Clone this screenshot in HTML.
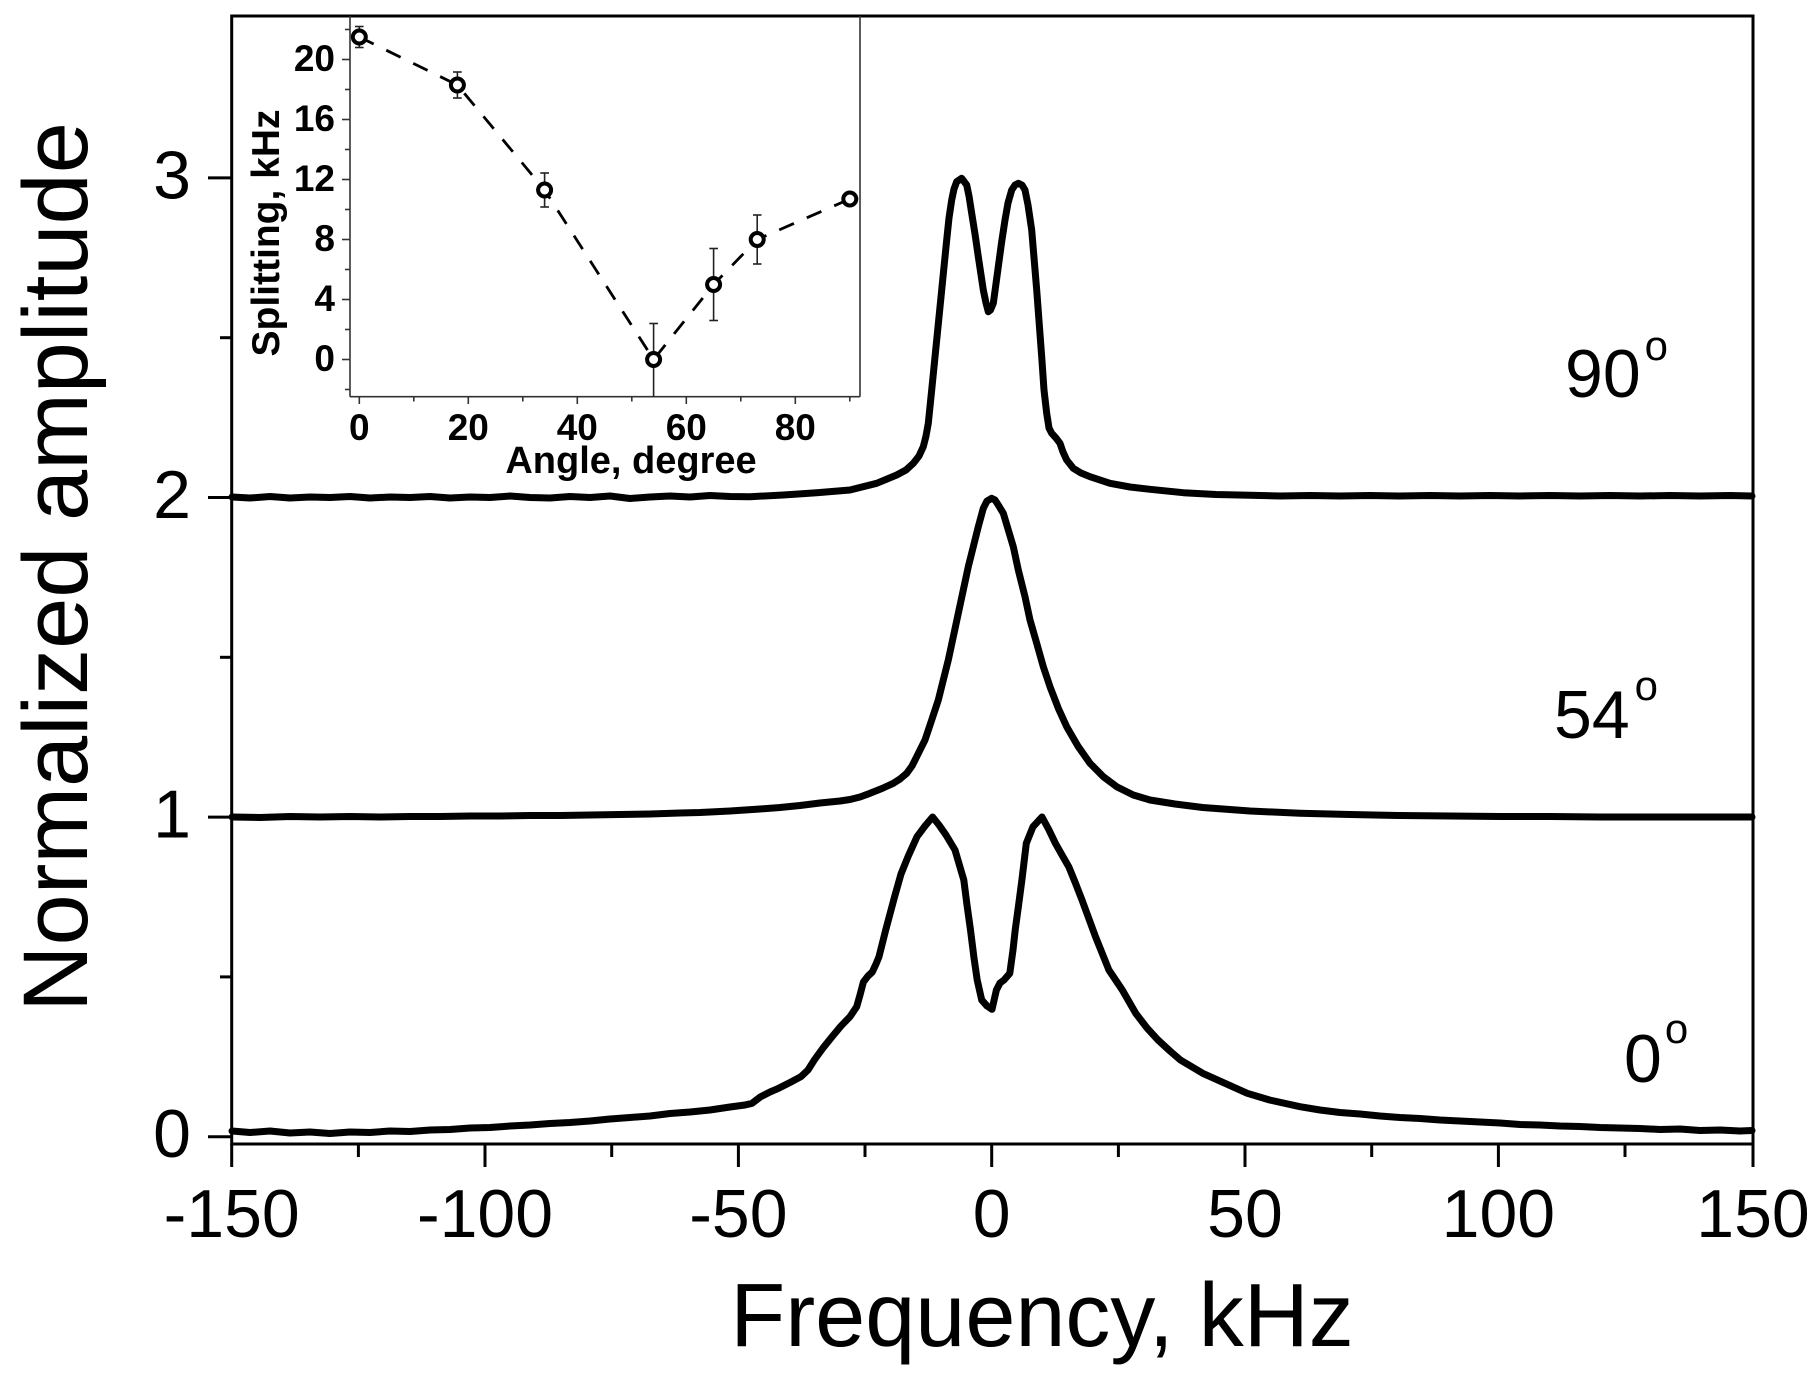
<!DOCTYPE html>
<html>
<head>
<meta charset="utf-8">
<style>
html,body{margin:0;padding:0;background:#fff;}
svg{display:block;}
text{font-family:"Liberation Sans",Arial,sans-serif;fill:#000;}
</style>
</head>
<body>
<svg width="1815" height="1382" viewBox="0 0 1815 1382" xmlns="http://www.w3.org/2000/svg">
<rect x="0" y="0" width="1815" height="1382" fill="#fff"/>

<!-- main frame -->
<rect x="231.7" y="16" width="1521.3" height="1128" fill="none" stroke="#000" stroke-width="3"/>

<!-- x ticks major -->
<g stroke="#000" stroke-width="3">
<line x1="231.7" y1="1144" x2="231.7" y2="1167"/>
<line x1="485" y1="1144" x2="485" y2="1167"/>
<line x1="738.4" y1="1144" x2="738.4" y2="1167"/>
<line x1="991.7" y1="1144" x2="991.7" y2="1167"/>
<line x1="1245" y1="1144" x2="1245" y2="1167"/>
<line x1="1498.4" y1="1144" x2="1498.4" y2="1167"/>
<line x1="1753" y1="1144" x2="1753" y2="1167"/>
<!-- minor -->
<line x1="358.4" y1="1144" x2="358.4" y2="1157"/>
<line x1="611.7" y1="1144" x2="611.7" y2="1157"/>
<line x1="865" y1="1144" x2="865" y2="1157"/>
<line x1="1118.4" y1="1144" x2="1118.4" y2="1157"/>
<line x1="1371.7" y1="1144" x2="1371.7" y2="1157"/>
<line x1="1625" y1="1144" x2="1625" y2="1157"/>
<!-- y ticks major -->
<line x1="208" y1="1136.7" x2="231.7" y2="1136.7"/>
<line x1="208" y1="817.1" x2="231.7" y2="817.1"/>
<line x1="208" y1="497.5" x2="231.7" y2="497.5"/>
<line x1="208" y1="177.9" x2="231.7" y2="177.9"/>
<!-- y minor -->
<line x1="220" y1="976.9" x2="231.7" y2="976.9"/>
<line x1="220" y1="657.3" x2="231.7" y2="657.3"/>
<line x1="220" y1="337.7" x2="231.7" y2="337.7"/>
</g>

<!-- y tick labels -->
<g font-size="68" text-anchor="end">
<text x="191" y="1157">0</text>
<text x="191" y="837.5">1</text>
<text x="191" y="518">2</text>
<text x="191" y="198.5">3</text>
</g>
<!-- x tick labels -->
<g font-size="68" text-anchor="middle">
<text x="231.7" y="1237">-150</text>
<text x="485" y="1237">-100</text>
<text x="738.4" y="1237">-50</text>
<text x="991.7" y="1237">0</text>
<text x="1245" y="1237">50</text>
<text x="1498.4" y="1237">100</text>
<text x="1753" y="1237">150</text>
</g>

<text x="1042" y="1346" font-size="90" text-anchor="middle">Frequency, kHz</text>
<text transform="translate(87,567) rotate(-90)" font-size="92" text-anchor="middle">Normalized amplitude</text>

<!-- curve labels -->
<text x="1565" y="397" font-size="68">90<tspan font-size="42" dx="4" dy="-37">o</tspan></text>
<text x="1554" y="738" font-size="68">54<tspan font-size="42" dx="5" dy="-38">o</tspan></text>
<text x="1624" y="1082" font-size="68">0<tspan font-size="42" dx="3" dy="-39">o</tspan></text>

<!-- curves -->
<g fill="none" stroke="#000" stroke-width="7" stroke-linejoin="round" stroke-linecap="round">
<!-- 0 degree -->
<polyline points="232,1131 250,1132.5 270,1131 290,1133 310,1132 330,1133.5 350,1132 370,1132.5 390,1131 410,1131.5 430,1130 450,1129.5 470,1128 490,1127.5 510,1126 530,1125 550,1123.5 570,1122.5 590,1121 610,1119 630,1117.5 650,1116 670,1113.5 690,1112 710,1110 730,1107 745,1105 752,1103.3 760.7,1096.7 770,1092 778.6,1088.3 790,1082.5 800.9,1076.7 808,1070 814.3,1060 823,1048 832.1,1036.7 841,1026 850,1016.7 856.7,1006.7 860,995 863.4,982 868,976 872.3,972 876,964 879,956.7 885.7,930 894.6,896.7 901,874 908,856.7 917,836.7 925,826 932.6,817 939,825 946,835 955,850 963.8,880 967,905 970.5,930 974,958 977.2,980 981.7,1000 987,1006 992,1009.3 996.4,990 1000,983 1004,980 1009.8,973.3 1013,950 1015.2,930 1018.6,905 1021.9,880 1026.3,843.3 1033,826.7 1042,817 1049,830 1055.4,843.3 1062,855 1068.75,866.7 1075,882 1082,900 1095.5,936.7 1108.9,970 1122.3,990 1135.7,1013.3 1147,1028 1158,1040 1170,1051 1180.4,1060 1202.7,1073.3 1225,1083.3 1247.3,1093.3 1269.6,1100 1300,1106.7 1320,1110 1340,1112.5 1360,1114 1380,1116 1400,1117.5 1420,1118.5 1440,1120 1460,1121 1480,1122 1500,1123 1520,1124.5 1540,1125 1560,1126 1580,1126.5 1600,1127.5 1620,1128 1640,1128.5 1660,1129.5 1680,1129 1700,1130.5 1720,1130 1740,1131 1752,1130.5"/>
<!-- 54 degree -->
<polyline points="232,817 260,817.5 290,816.5 320,817 350,816.5 380,817 410,816.5 440,816.5 470,816 500,816 530,815.5 560,815.5 590,815 620,814.5 650,814 680,813 700,812.5 730,811 760,809 780,807.5 800,805.5 820,803 840,801 850,799.5 860,797 870,793.3 882,788.5 893.3,783.3 900,779 906.7,773.3 912,766 916.7,756.7 921,748 925,740 931.7,720 938.3,700 943.3,680 948.3,660 953.3,636.7 958.3,613.3 963.3,590 968.3,566.7 973.3,546.7 978.3,526.7 983.3,508.3 987,501 991.7,498.3 995,500 998.3,505 1003.3,513.3 1008.3,530 1013.3,546.7 1018.3,570 1025,596.7 1030,620 1036.7,643.3 1043.3,666.7 1050,686.7 1058.3,708.3 1066.7,726.7 1078.3,746.7 1090,763.3 1103.3,776.7 1116.7,786.7 1133.3,795 1150,800 1175,804 1202.7,807.5 1250,811 1300,813.3 1350,814.5 1400,815.5 1450,816 1500,816.5 1550,816.5 1600,817 1650,817 1700,817 1752,817"/>
<!-- 90 degree -->
<polyline points="232,497 250,498 270,496.5 290,498 310,497 330,497.5 350,496.5 370,498 390,497 410,497.5 430,496.5 450,498 470,497 490,497.5 510,496 530,497.5 550,498 570,496.5 590,497.5 610,496 630,498.5 650,497 670,496 690,497 710,495.5 730,496.5 750,496.7 783.3,495 816.7,492.7 850,490 876.7,483.3 896.7,475 906,470 913.3,463.3 919,456 923.3,446.7 926,436 928.3,423.3 931.7,390 936.7,340 941.7,290 946.7,240 949,218 951.7,200 954,189 956.7,181.7 961.7,178.3 966.7,185 969,196 971.7,213.3 975,234 978.3,256.7 983.3,290 986,303 988.3,311.7 990.5,310 993.3,303.3 998.3,266.7 1001.5,243 1005,220 1008,203 1011.7,190 1015,185 1018.3,183.3 1022,185 1025,190 1028,205 1031.7,230 1036.7,290 1041.7,356.7 1044,390 1046.7,413.3 1049,428 1051.7,433.3 1056,438 1060,443.3 1063,452 1066.7,460 1073.3,468.3 1081,473 1090,476.7 1110,483.3 1130,487 1150,489.3 1183.3,492.7 1216,494.5 1250,495.3 1280,496 1310,495.5 1340,496 1370,495.5 1400,496 1430,495.5 1460,496 1490,495.5 1520,496 1550,495.5 1580,496 1610,495.5 1640,496 1670,495.5 1700,496 1730,495.5 1752,496"/>
</g>

<!-- INSET -->
<g stroke="#333" stroke-width="1.6" fill="none">
<line x1="350" y1="16" x2="350" y2="396.7"/>
<line x1="860" y1="16" x2="860" y2="396.7"/>
<line x1="350" y1="396.7" x2="860" y2="396.7"/>
<!-- x ticks -->
<line x1="359.3" y1="396.7" x2="359.3" y2="404"/>
<line x1="468.3" y1="396.7" x2="468.3" y2="404"/>
<line x1="577.3" y1="396.7" x2="577.3" y2="404"/>
<line x1="686.3" y1="396.7" x2="686.3" y2="404"/>
<line x1="795.3" y1="396.7" x2="795.3" y2="404"/>
<line x1="413.8" y1="396.7" x2="413.8" y2="401.5"/>
<line x1="522.8" y1="396.7" x2="522.8" y2="401.5"/>
<line x1="631.8" y1="396.7" x2="631.8" y2="401.5"/>
<line x1="740.8" y1="396.7" x2="740.8" y2="401.5"/>
<line x1="849.8" y1="396.7" x2="849.8" y2="401.5"/>
<!-- y ticks -->
<line x1="342" y1="359.5" x2="350" y2="359.5"/>
<line x1="342" y1="299.5" x2="350" y2="299.5"/>
<line x1="342" y1="239.5" x2="350" y2="239.5"/>
<line x1="342" y1="179.5" x2="350" y2="179.5"/>
<line x1="342" y1="119.5" x2="350" y2="119.5"/>
<line x1="342" y1="59.5" x2="350" y2="59.5"/>
<line x1="345" y1="389.5" x2="350" y2="389.5"/>
<line x1="345" y1="329.5" x2="350" y2="329.5"/>
<line x1="345" y1="269.5" x2="350" y2="269.5"/>
<line x1="345" y1="209.5" x2="350" y2="209.5"/>
<line x1="345" y1="149.5" x2="350" y2="149.5"/>
<line x1="345" y1="89.5" x2="350" y2="89.5"/>
<line x1="345" y1="29.5" x2="350" y2="29.5"/>
</g>

<g font-size="37" font-weight="bold" text-anchor="middle">
<text x="359.3" y="440">0</text>
<text x="468.3" y="440">20</text>
<text x="577.3" y="440">40</text>
<text x="686.3" y="440">60</text>
<text x="795.3" y="440">80</text>
</g>
<g font-size="37" font-weight="bold" text-anchor="end">
<text x="335" y="371">0</text>
<text x="335" y="311">4</text>
<text x="335" y="251">8</text>
<text x="335" y="191">12</text>
<text x="335" y="131">16</text>
<text x="335" y="71">20</text>
</g>
<text x="631" y="473" font-size="38" font-weight="bold" text-anchor="middle">Angle, degree</text>
<text transform="translate(279,233) rotate(-90)" font-size="39" font-weight="bold" text-anchor="middle">Splitting, kHz</text>

<!-- dashed line -->
<polyline points="359.3,37 457.4,85 544.6,190 653.6,359.5 713.6,284.5 757.2,239.5 849.8,199" fill="none" stroke="#000" stroke-width="2.8" stroke-dasharray="16 14"/>

<!-- error bars -->
<g stroke="#222" stroke-width="1.6">
<line x1="359.3" y1="26.5" x2="359.3" y2="47.5"/><line x1="355" y1="26.5" x2="363.6" y2="26.5"/><line x1="355" y1="47.5" x2="363.6" y2="47.5"/>
<line x1="457.4" y1="72" x2="457.4" y2="98"/><line x1="453" y1="72" x2="461.7" y2="72"/><line x1="453" y1="98" x2="461.7" y2="98"/>
<line x1="544.6" y1="173" x2="544.6" y2="207"/><line x1="540.3" y1="173" x2="549" y2="173"/><line x1="540.3" y1="207" x2="549" y2="207"/>
<line x1="653.6" y1="323.5" x2="653.6" y2="396.7"/><line x1="649.3" y1="323.5" x2="658" y2="323.5"/>
<line x1="713.6" y1="248.5" x2="713.6" y2="320.5"/><line x1="709.3" y1="248.5" x2="718" y2="248.5"/><line x1="709.3" y1="320.5" x2="718" y2="320.5"/>
<line x1="757.2" y1="215" x2="757.2" y2="264"/><line x1="753" y1="215" x2="761.5" y2="215"/><line x1="753" y1="264" x2="761.5" y2="264"/>
</g>

<!-- markers -->
<g fill="#fff" stroke="#000" stroke-width="4">
<circle cx="359.3" cy="37" r="6.5"/>
<circle cx="457.4" cy="85" r="6.5"/>
<circle cx="544.6" cy="190" r="6.5"/>
<circle cx="653.6" cy="359.5" r="6.5"/>
<circle cx="713.6" cy="284.5" r="6.5"/>
<circle cx="757.2" cy="239.5" r="6.5"/>
<circle cx="849.8" cy="199" r="6.5"/>
</g>
</svg>
</body>
</html>
